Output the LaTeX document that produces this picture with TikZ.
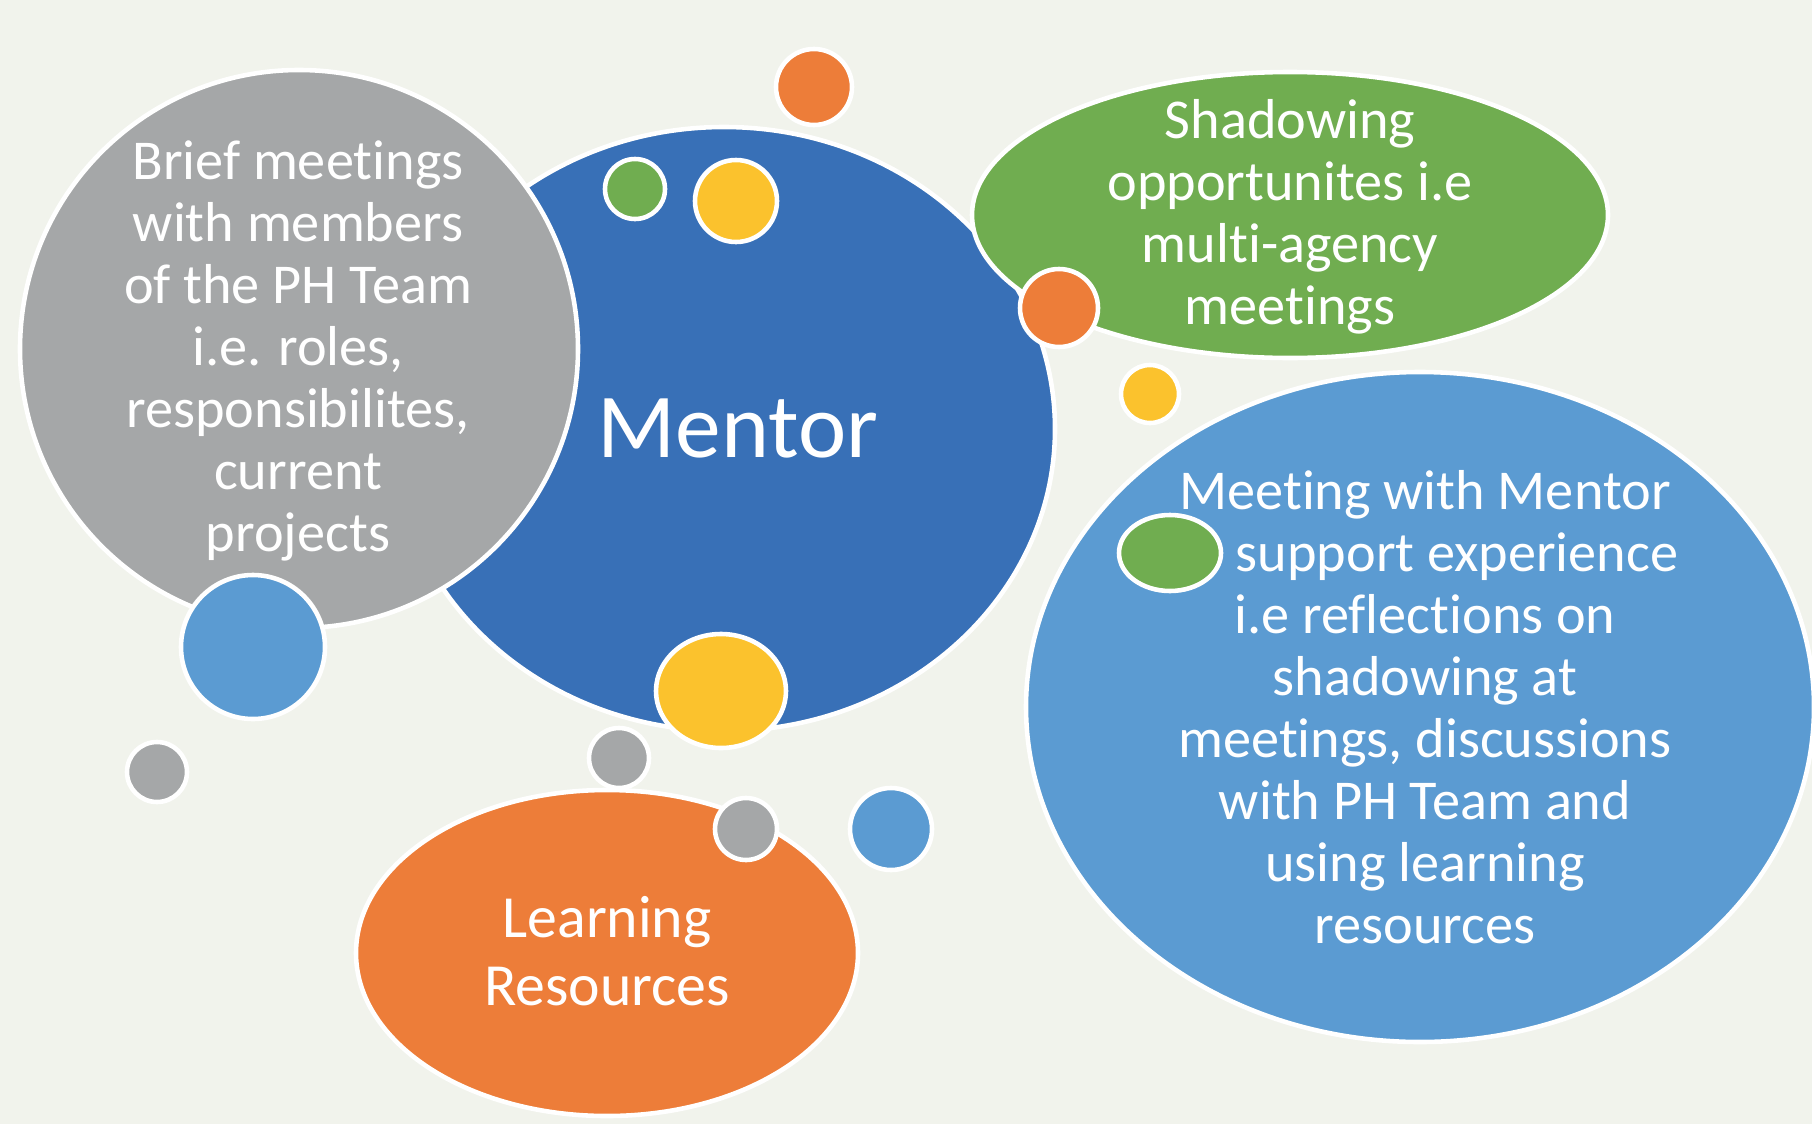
\documentclass[tikz,border=0pt]{standalone}
\usepackage{fontspec}
\setmainfont{Carlito}[Ligatures=NoCommon]

\definecolor{paper}{RGB}{241,243,236}
\definecolor{mentorblue}{RGB}{56,112,183}
\definecolor{skyblue}{RGB}{91,155,210}
\definecolor{leafgreen}{RGB}{112,173,80}
\definecolor{pumpkin}{RGB}{237,125,57}
\definecolor{sunflower}{RGB}{251,194,45}
\definecolor{slate}{RGB}{165,167,168}

\begin{document}
\begin{tikzpicture}[x=0.01cm,y=-0.01cm,
  bubble/.style={fill=#1,draw=white,line width=1.3pt},
  bubbletext/.style={text=white,align=center,inner sep=0pt,
    font=\fontsize{16}{17.65}\selectfont}]
  % Page background
  \useasboundingbox[fill=paper] (0,0) rectangle (1812,1124);

  % Mentor ellipse
  \filldraw[bubble=mentorblue] (724,429) ellipse (331 and 302);
  \node[bubbletext,anchor=base,font=\fontsize{26}{30}\selectfont] (mentor) at (738,457) {Mentor};

  % Shadowing ellipse
  \filldraw[bubble=leafgreen] (1290,215) ellipse (318 and 143);
  \node[bubbletext] (shadowing) at (1290,217) {Shadowing\\opportunites i.e\\multi-agency\\meetings};

  % Brief meetings circle
  \filldraw[bubble=slate] (299,349) circle (279);
  \node[bubbletext] (briefing) at (298,351) {Brief meetings\\with members\\of the PH Team\\i.e. roles,\\responsibilites,\\current\\projects};
  \filldraw[bubble=skyblue] (253,647) circle (72);

  % Dots on and around the Mentor ellipse
  \filldraw[bubble=leafgreen] (635,189) circle (30);
  \filldraw[bubble=sunflower] (736,201) circle (41);
  \filldraw[bubble=pumpkin] (814,87) circle (38);
  \filldraw[bubble=pumpkin] (1059,308) circle (39);
  \filldraw[bubble=sunflower] (1150,394) circle (29);

  % Meeting with Mentor ellipse
  \filldraw[bubble=skyblue] (1420,707) ellipse (394 and 335);
  \filldraw[bubble=leafgreen] (1170,553) ellipse (51 and 38);
  \node[bubbletext] (meeting) at (1425,707) {Meeting with Mentor\\\hspace*{0.64cm}support experience\\i.e reflections on\\shadowing at\\meetings, discussions\\with PH Team and\\using learning\\resources};

  % Dots below the Mentor ellipse
  \filldraw[bubble=sunflower] (721,691) ellipse (65 and 57);
  \filldraw[bubble=slate] (157,772) circle (30);
  \filldraw[bubble=slate] (619,758) circle (30);

  % Learning Resources ellipse
  \filldraw[bubble=pumpkin] (607,953) ellipse (251 and 163);
  \node[bubbletext,font=\fontsize{17}{19.3}\selectfont] (resources) at (607,951) {Learning\\Resources};
  \filldraw[bubble=slate] (746,829) circle (31);
  \filldraw[bubble=skyblue] (891,829) circle (41);
\end{tikzpicture}
\end{document}
